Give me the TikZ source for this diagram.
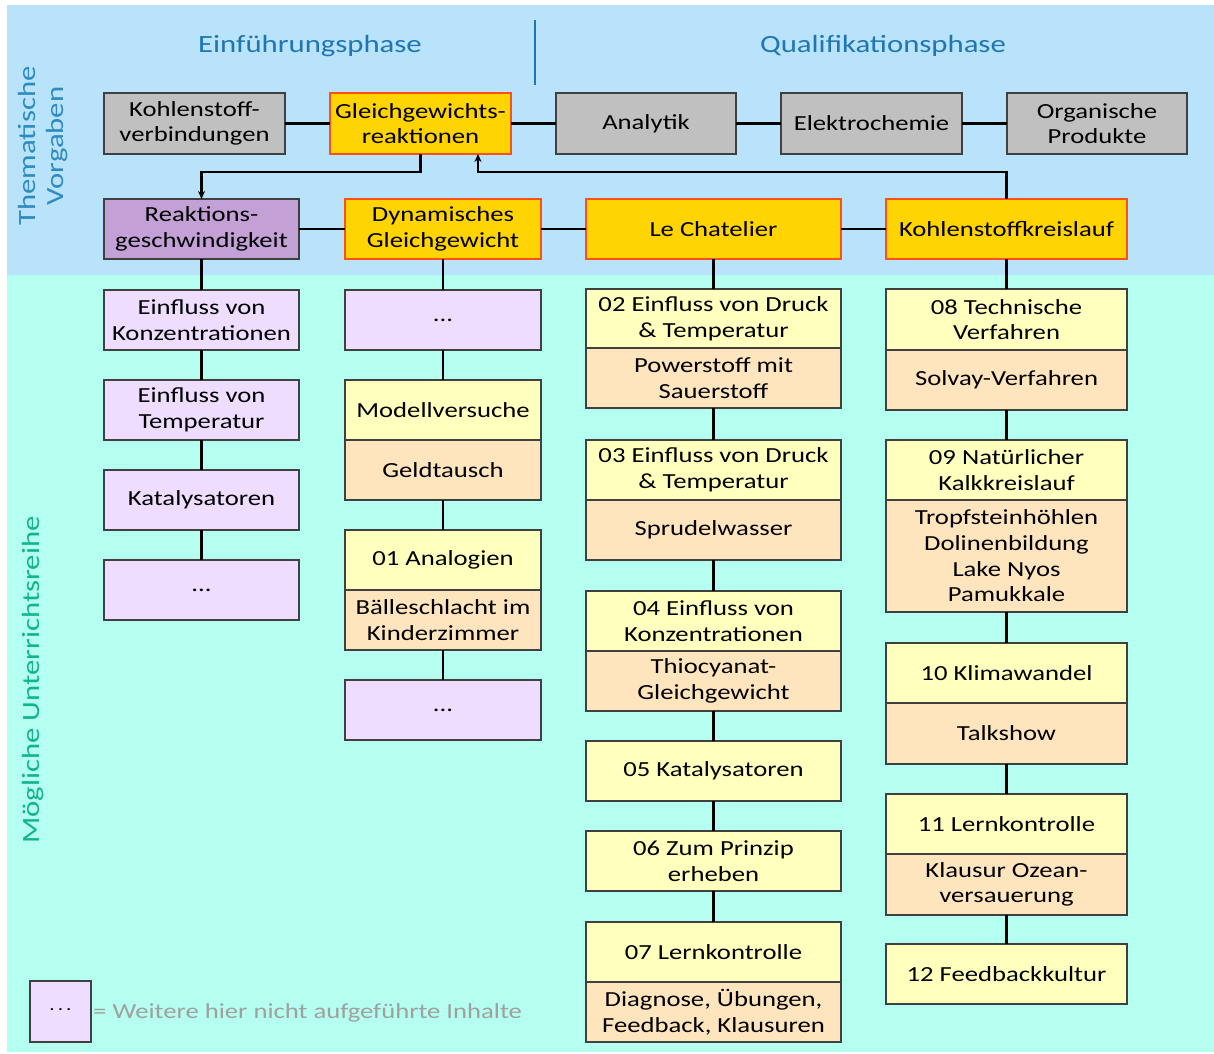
\documentclass[tikz,border=0pt]{standalone}
\usepackage{fontspec}
\setmainfont{Carlito}[FakeStretch=1.24]
\usetikzlibrary{arrows.meta}
\definecolor{topbg}{RGB}{184,227,250}
\definecolor{botbg}{RGB}{180,255,240}
\definecolor{grayfill}{RGB}{192,192,192}
\definecolor{boxborder}{RGB}{64,64,64}
\definecolor{gold}{RGB}{255,212,0}
\definecolor{goldborder}{RGB}{255,80,26}
\definecolor{purplefill}{RGB}{195,160,214}
\definecolor{lavfill}{RGB}{238,221,255}
\definecolor{yelfill}{RGB}{255,255,190}
\definecolor{peachfill}{RGB}{255,229,190}
\definecolor{headblue}{RGB}{31,118,178}
\definecolor{vblue}{RGB}{46,139,192}
\definecolor{vgreen}{RGB}{18,180,138}
\definecolor{legendgray}{RGB}{160,160,160}
\newcommand\bx[7]{\node[#1,minimum width={(#4)-(#3)},minimum height={(#6)-(#5)}] (#2) at ({((#3)+(#4))/2},{((#5)+(#6))/2}) {#7};}
\begin{document}
\begin{tikzpicture}[x=1pt,y=-1pt,
  base/.style={draw=boxborder,line width=1.5pt,inner sep=0pt,outer sep=0pt,align=center,font=\fontsize{21.5}{25.7}\selectfont,text=black},
  graybox/.style={base,fill=grayfill},
  goldbox/.style={base,fill=gold,draw=goldborder,line width=2.5pt},
  purplebox/.style={base,fill=purplefill},
  lavbox/.style={base,fill=lavfill},
  yelbox/.style={base,fill=yelfill},
  peachbox/.style={base,fill=peachfill},
  conn/.style={line width=2.5pt,black},
  arr/.style={conn,-{Stealth[length=8pt,width=7pt]}},
  head/.style={text=headblue,font=\fontsize{24.8}{30}\selectfont},
  vlab/.style={rotate=90,align=center,font=\fontsize{24.8}{28}\selectfont}
]
\useasboundingbox (0,0) rectangle (1214,1053);
\fill[white] (0,0) rectangle (1214,1053);
\fill[topbg] (7,5) rectangle (1214,275);
\fill[botbg] (7,275) rectangle (1214,1052);

% headers
\node[head] (hE) at (310,46) {Einführungsphase};
\node[head] (hQ) at (883,46) {Qualifikationsphase};
\coordinate (d1) at (535,20);
\coordinate (d2) at (535,85);
\draw[headblue,line width=2.5pt] (d1) -- (d2);
\node[vlab,text=vblue] (vT) at (43,146) {Thematische\\Vorgaben};
\node[vlab,text=vgreen] (vM) at (33,680) {Mögliche Unterrichtsreihe};

% top row
\bx{graybox}{k1}{104}{285}{93}{154}{Kohlenstoff-\\verbindungen}
\bx{goldbox}{gr}{330}{511}{93}{154}{Gleichgewichts-\\reaktionen}
\bx{graybox}{an}{556}{736}{93}{154}{Analytik}
\bx{graybox}{el}{781}{962}{93}{154}{Elektrochemie}
\bx{graybox}{og}{1007}{1187}{93}{154}{Organische\\Produkte}

% second row
\bx{purplebox}{rg}{104}{299}{199}{259}{Reaktions-\\geschwindigkeit}
\bx{goldbox}{dg}{345}{541}{199}{259}{Dynamisches\\Gleichgewicht}
\bx{goldbox}{lc}{586}{841}{199}{259}{Le Chatelier}
\bx{goldbox}{kk}{886}{1127}{199}{259}{Kohlenstoffkreislauf}

% column 1
\bx{lavbox}{a1}{104}{299}{290}{350}{Einfluss von\\Konzentrationen}
\bx{lavbox}{a2}{104}{299}{380}{440}{Einfluss von\\Temperatur}
\bx{lavbox}{a3}{104}{299}{470}{530}{Katalysatoren}
\bx{lavbox}{a4}{104}{299}{560}{620}{...}

% column 2
\bx{lavbox}{b1}{345}{541}{290}{350}{...}
\bx{yelbox}{b2}{345}{541}{380}{440}{Modellversuche}
\bx{peachbox}{b2u}{345}{541}{440}{500}{Geldtausch}
\bx{yelbox}{b3}{345}{541}{530}{590}{01 Analogien}
\bx{peachbox}{b3u}{345}{541}{590}{650}{Bälleschlacht im\\Kinderzimmer}
\bx{lavbox}{b4}{345}{541}{680}{740}{...}

% column 3
\bx{yelbox}{c1}{586}{841}{289}{348}{02 Einfluss von Druck\\\& Temperatur}
\bx{peachbox}{c1u}{586}{841}{348}{408}{Powerstoff mit\\Sauerstoff}
\bx{yelbox}{c2}{586}{841}{440}{500}{03 Einfluss von Druck\\\& Temperatur}
\bx{peachbox}{c2u}{586}{841}{500}{560}{Sprudelwasser}
\bx{yelbox}{c3}{586}{841}{591}{651}{04 Einfluss von\\Konzentrationen}
\bx{peachbox}{c3u}{586}{841}{651}{711}{Thiocyanat-\\Gleichgewicht}
\bx{yelbox}{c4}{586}{841}{741}{801}{05 Katalysatoren}
\bx{yelbox}{c5}{586}{841}{831}{891}{06 Zum Prinzip\\erheben}
\bx{yelbox}{c6}{586}{841}{922}{982}{07 Lernkontrolle}
\bx{peachbox}{c6u}{586}{841}{982}{1042}{Diagnose, Übungen,\\Feedback, Klausuren}

% column 4
\bx{yelbox}{e1}{886}{1127}{289}{350}{08 Technische\\Verfahren}
\bx{peachbox}{e1u}{886}{1127}{350}{410}{Solvay-Verfahren}
\bx{yelbox}{e2}{886}{1127}{440}{500}{09 Natürlicher\\Kalkkreislauf}
\bx{peachbox}{e2u}{886}{1127}{500}{612}{Tropfsteinhöhlen\\Dolinenbildung\\Lake Nyos\\Pamukkale}
\bx{yelbox}{e3}{886}{1127}{643}{703}{10 Klimawandel}
\bx{peachbox}{e3u}{886}{1127}{703}{764}{Talkshow}
\bx{yelbox}{e4}{886}{1127}{794}{854}{11 Lernkontrolle}
\bx{peachbox}{e4u}{886}{1127}{854}{915}{Klausur Ozean-\\versauerung}
\bx{yelbox}{e5}{886}{1127}{944}{1004}{12 Feedbackkultur}

% legend
\bx{lavbox}{lg}{30}{91}{981}{1042}{\fontsize{14}{14}\selectfont ·\hspace{4pt}·\hspace{4pt}·}
\node[anchor=west,inner sep=0pt,text=legendgray,font=\fontsize{21.5}{25.7}\selectfont] (lgt) at (93,1013) {= Weitere hier nicht aufgeführte Inhalte};

% connectors top row
\draw[conn] (k1.east) -- (gr.west);
\draw[conn] (gr.east) -- (an.west);
\draw[conn] (an.east) -- (el.west);
\draw[conn] (el.east) -- (og.west);
% second row
\draw[conn] (rg.east) -- (dg.west);
\draw[conn] (dg.east) -- (lc.west);
\draw[conn] (lc.east) -- (kk.west);
% arrows
\draw[arr] (gr.south) -- ++(0,18) -| (rg.north);
\draw[arr] (kk.north) -- ++(0,-27) -| ([xshift=57.5pt]gr.south);
% columns
\draw[conn] (rg.south) -- (a1.north);
\draw[conn] (a1.south) -- (a2.north);
\draw[conn] (a2.south) -- (a3.north);
\draw[conn] (a3.south) -- (a4.north);
\draw[conn] (dg.south) -- (b1.north);
\draw[conn] (b1.south) -- (b2.north);
\draw[conn] (b2u.south) -- (b3.north);
\draw[conn] (b3u.south) -- (b4.north);
\draw[conn] (lc.south) -- (c1.north);
\draw[conn] (c1u.south) -- (c2.north);
\draw[conn] (c2u.south) -- (c3.north);
\draw[conn] (c3u.south) -- (c4.north);
\draw[conn] (c4.south) -- (c5.north);
\draw[conn] (c5.south) -- (c6.north);
\draw[conn] (kk.south) -- (e1.north);
\draw[conn] (e1u.south) -- (e2.north);
\draw[conn] (e2u.south) -- (e3.north);
\draw[conn] (e3u.south) -- (e4.north);
\draw[conn] (e4u.south) -- (e5.north);
\end{tikzpicture}
\end{document}
